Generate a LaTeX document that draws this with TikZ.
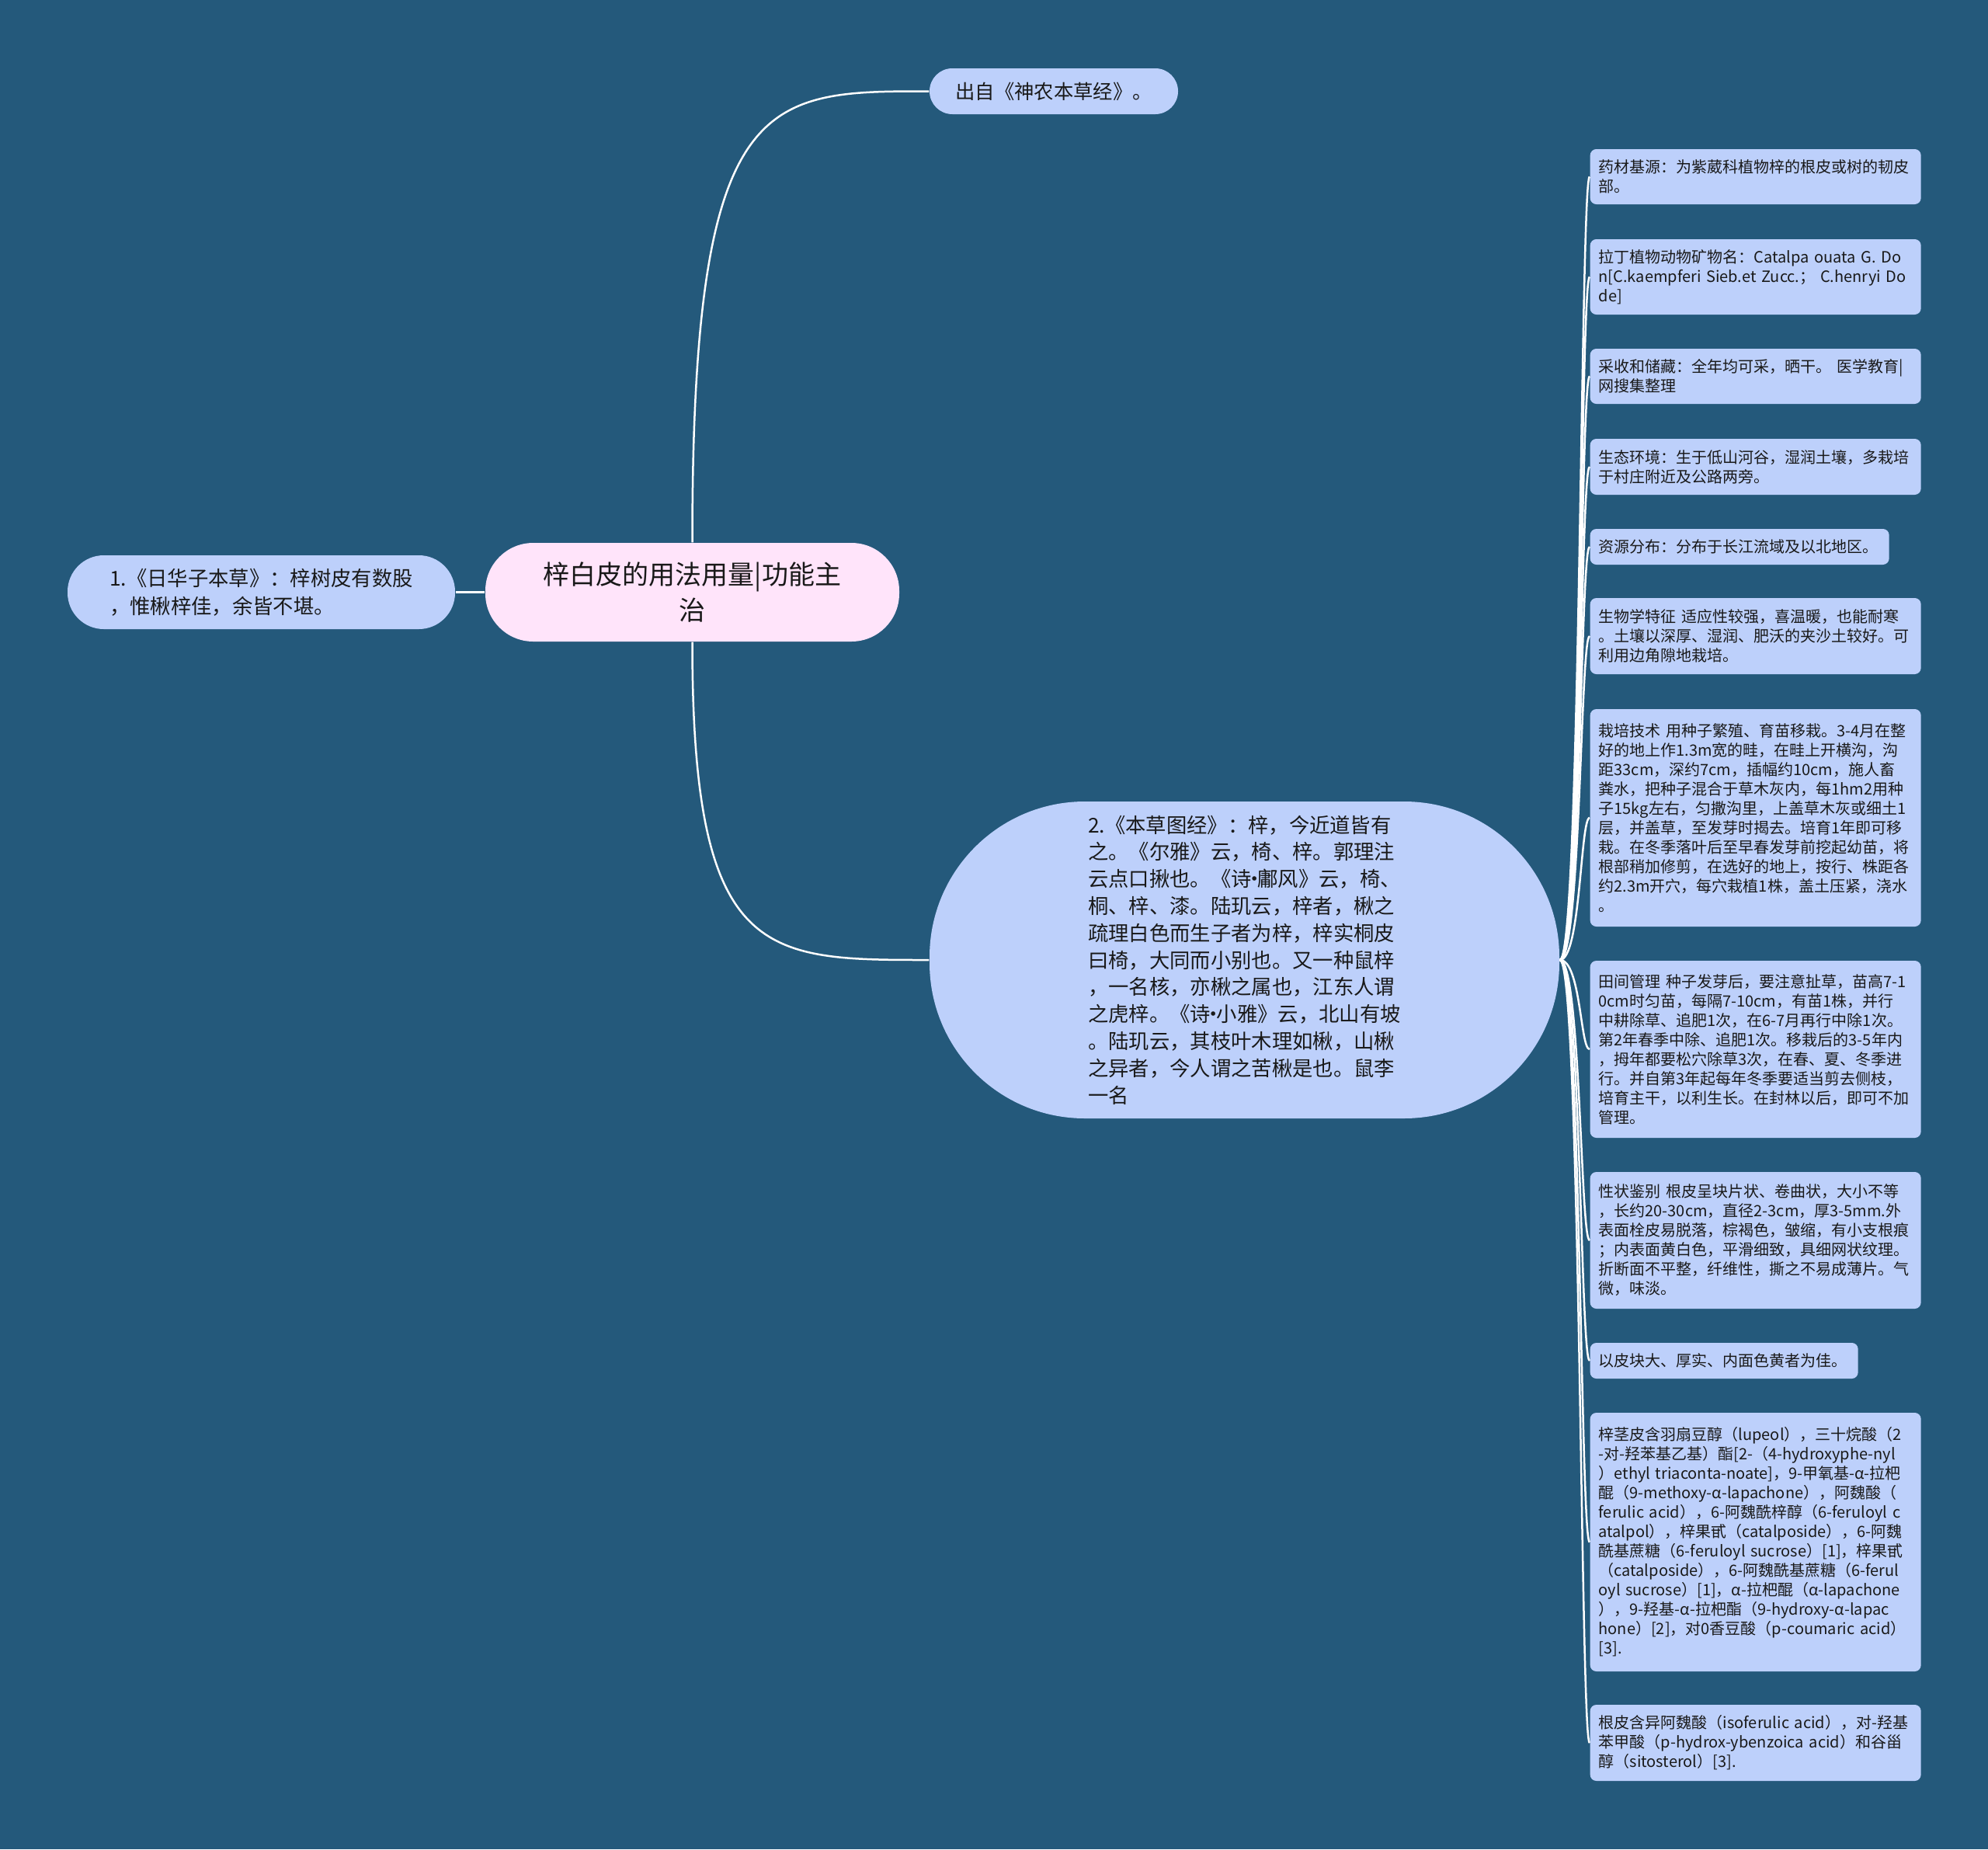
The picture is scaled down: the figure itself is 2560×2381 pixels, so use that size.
\documentclass[tikz,border=0pt]{standalone}
\usepackage{fontspec}
\setmainfont{Noto Sans CJK SC}
\usetikzlibrary{calc}
\definecolor{bg}{RGB}{36,89,123}
\definecolor{nodeblue}{RGB}{189,208,251}
\definecolor{titlepink}{RGB}{255,228,250}
\definecolor{txt}{RGB}{25,25,25}
\newcommand{\mydot}{\makebox[0.3em][c]{·}}
\tikzset{
  leaf/.style={fill=nodeblue, rounded corners=2.4pt, text=txt,
    font=\fontsize{6pt}{7.5pt}\selectfont, align=left,
    inner xsep=3.3pt, inner ysep=1pt, text width=121.2pt, anchor=west},
  bignode/.style={fill=nodeblue, text=txt, font=\fontsize{7.9pt}{10.44pt}\selectfont, inner sep=0pt},
  link/.style={draw=white, line width=0.75pt},
}
\begin{document}
\begin{tikzpicture}[x=0.3pt,y=-0.3pt]
\fill[bg] (0,0) rectangle (2560,2381);

% central topic
\node[fill=titlepink, text=txt, rounded corners=18.5pt, minimum width=159.9pt, minimum height=38.1pt,
  align=center, font=\fontsize{10.2pt}{13.8pt}\selectfont, inner sep=0pt] (c) at (891.5,762.5)
  {梓白皮的用法用量|功能主\\治};

% top node
\node[bignode, rounded corners=8.8pt, minimum width=96pt, minimum height=17.7pt,
  font=\fontsize{7.6pt}{9pt}\selectfont] (t) at (1357,117.5) {出自《神农本草经》。};

% left node
\node[bignode, rounded corners=14pt, minimum width=149.7pt, minimum height=28.5pt, align=left,
  font=\fontsize{7.9pt}{10.8pt}\selectfont] (l) at (336.5,762.5)
  {1.《日华子本草》：梓树皮有数股\\，惟楸梓佳，余皆不堪。};

% big node
\node[bignode, rounded corners=60pt, minimum width=243.3pt, minimum height=122.4pt, align=left] (b) at (1602.5,1236)
  {2.《本草图经》：梓，今近道皆有\\
之。《尔雅》云，椅、梓。郭理注\\
云点口揪也。《诗\mydot 鄘风》云，椅、\\
桐、梓、漆。陆玑云，梓者，楸之\\
疏理白色而生子者为梓，梓实桐皮\\
曰椅，大同而小别也。又一种鼠梓\\
，一名核，亦楸之属也，江东人谓\\
之虎梓。《诗\mydot 小雅》云，北山有坡\\
。陆玑云，其枝叶木理如楸，山楸\\
之异者，今人谓之苦楸是也。鼠李\\
一名};

% leaves
\node[leaf, minimum height=21.3pt] (l1) at (2047,227.5)
  {药材基源：为紫葳科植物梓的根皮或树的韧皮\\部。};
\node[leaf, minimum height=29.1pt] (l2) at (2047,356.5)
  {拉丁植物动物矿物名：Catalpa~ouata~G.~Do\\n[C.kaempferi~Sieb.et~Zucc.；~C.henryi~Do\\de]};
\node[leaf, minimum height=21.3pt] (l3) at (2047,484.5)
  {采收和储藏：全年均可采，晒干。~医学教育|\\网搜集整理};
\node[leaf, minimum height=21.6pt] (l4) at (2047,601)
  {生态环境：生于低山河谷，湿润土壤，多栽培\\于村庄附近及公路两旁。};
\node[leaf, minimum height=13.8pt, text width=108.9pt] (l5) at (2047,704)
  {资源分布：分布于长江流域及以北地区。};
\node[leaf, minimum height=29.4pt] (l6) at (2047,819)
  {生物学特征~适应性较强，喜温暖，也能耐寒\\。土壤以深厚、湿润、肥沃的夹沙土较好。可\\利用边角隙地栽培。};
\node[leaf, minimum height=84pt] (l7) at (2047,1053)
  {栽培技术~用种子繁殖、育苗移栽。3-4月在整\\
好的地上作1.3m宽的畦，在畦上开横沟，沟\\
距33cm，深约7cm，插幅约10cm，施人畜\\
粪水，把种子混合于草木灰内，每1hm2用种\\
子15kg左右，匀撒沟里，上盖草木灰或细土1\\
层，并盖草，至发芽时揭去。培育1年即可移\\
栽。在冬季落叶后至早春发芽前挖起幼苗，将\\
根部稍加修剪，在选好的地上，按行、株距各\\
约2.3m开穴，每穴栽植1株，盖土压紧，浇水\\
。};
\node[leaf, minimum height=68.4pt] (l8) at (2047,1351)
  {田间管理~种子发芽后，要注意扯草，苗高7-1\\
0cm时匀苗，每隔7-10cm，有苗1株，并行\\
中耕除草、追肥1次，在6-7月再行中除1次。\\
第2年春季中除、追肥1次。移栽后的3-5年内\\
，拇年都要松穴除草3次，在春、夏、冬季进\\
行。并自第3年起每年冬季要适当剪去侧枝，\\
培育主干，以利生长。在封林以后，即可不加\\
管理。};
\node[leaf, minimum height=52.8pt] (l9) at (2047,1597)
  {性状鉴别~根皮呈块片状、卷曲状，大小不等\\
，长约20-30cm，直径2-3cm，厚3-5mm.外\\
表面栓皮易脱落，棕褐色，皱缩，有小支根痕\\
；内表面黄白色，平滑细致，具细网状纹理。\\
折断面不平整，纤维性，撕之不易成薄片。气\\
微，味淡。};
\node[leaf, minimum height=13.8pt, text width=96.9pt] (l10) at (2047,1752)
  {以皮块大、厚实、内面色黄者为佳。};
\node[leaf, minimum height=99.9pt] (l11) at (2047,1985.5)
  {梓茎皮含羽扇豆醇（lupeol），三十烷酸（2\\
-对-羟苯基乙基）酯[2-（4-hydroxyphe-nyl\\
）ethyl~triaconta-noate]，9-甲氧基-α-拉杷\\
醌（9-methoxy-α-lapachone），阿魏酸（\\
ferulic~acid），6-阿魏酰梓醇（6-feruloyl~c\\
atalpol），梓果甙（catalposide），6-阿魏\\
酰基蔗糖（6-feruloyl~sucrose）[1]，梓果甙\\
（catalposide），6-阿魏酰基蔗糖（6-ferul\\
oyl~sucrose）[1]，α-拉杷醌（α-lapachone\\
），9-羟基-α-拉杷酯（9-hydroxy-α-lapac\\
hone）[2]，对0香豆酸（p-coumaric~acid）\\{}
[3].};
\node[leaf, minimum height=29.4pt] (l12) at (2047,2244)
  {根皮含异阿魏酸（isoferulic~acid），对-羟基\\
苯甲酸（p-hydrox-ybenzoica~acid）和谷甾\\
醇（sitosterol）[3].};

% connectors
\draw[link] (c.north) .. controls (c.north |- t.west) and ($(c.north |- t.west)!0.3!(t.west)$) .. (t.west);
\draw[link] (c.south) .. controls (c.south |- b.west) and ($(c.south |- b.west)!0.3!(b.west)$) .. (b.west);
\draw[link] (c.west) -- (l.east);
\foreach \i in {1,...,12}
  \draw[link] (b.east) .. controls +(27,0) and +(-12,0) .. (l\i.west);
\end{tikzpicture}
\end{document}
